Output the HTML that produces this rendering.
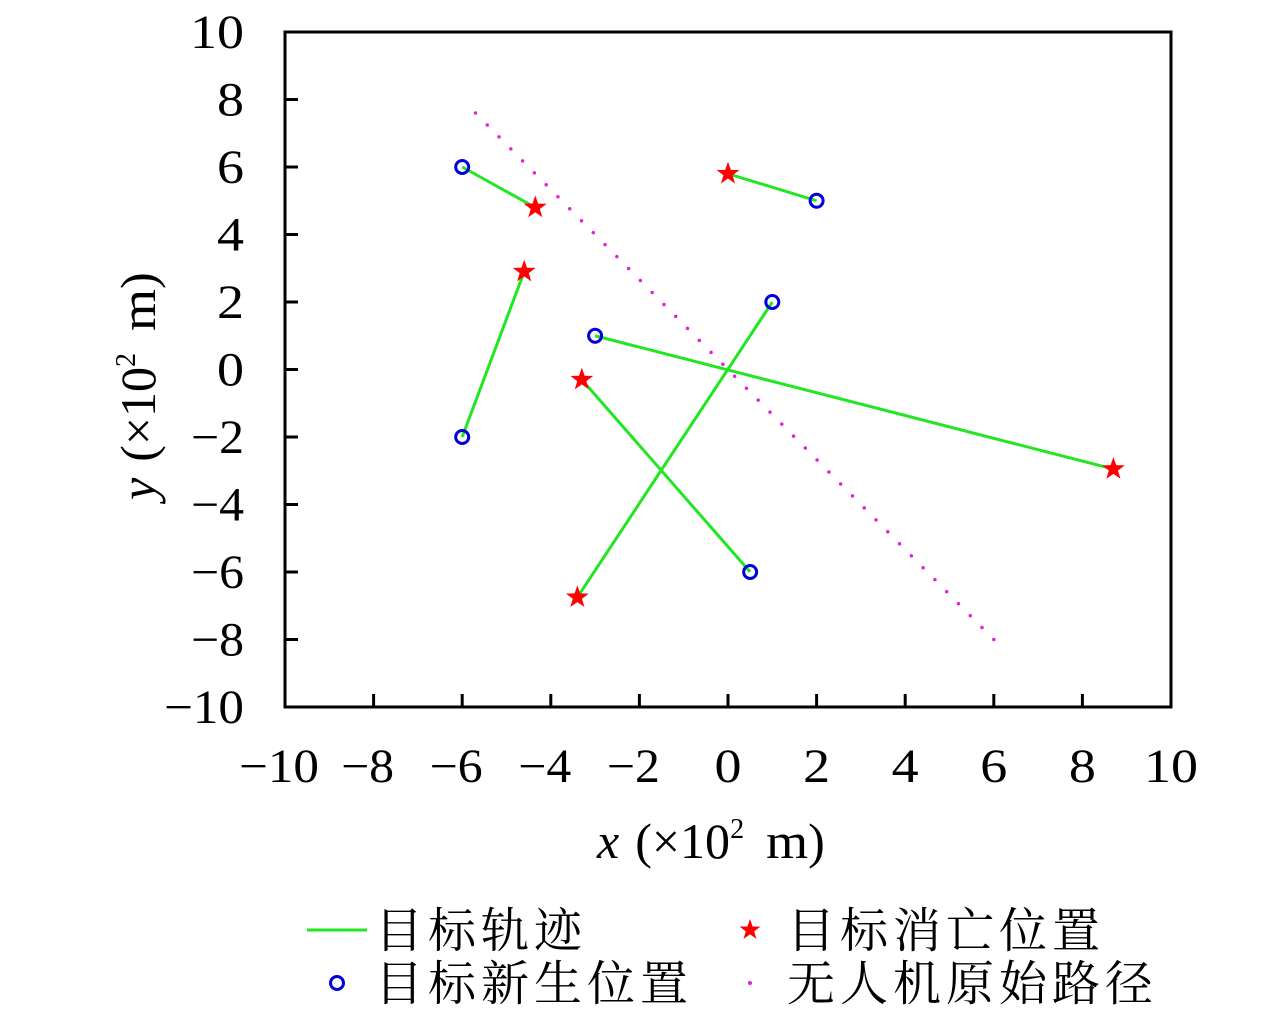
<!DOCTYPE html>
<html><head><meta charset="utf-8"><style>
body{margin:0;background:#fff}
svg{display:block}
text{font-family:"Liberation Serif","Noto Serif CJK SC",serif;fill:#000}
</style></head><body>
<svg width="1280" height="1010" id="c"></svg>
<script>
const births=[[-6,6],[2,5],[-6,-2],[-3,1],[1,2],[0.5,-6]];
const deaths=[[-4.35,4.8],[0,5.8],[-4.6,2.9],[8.7,-2.95],[-3.4,-6.75],[-3.3,-0.3]];
const uavPath=[[-5.7,7.6],[6,-8]];
const xTicks=[-10,-8,-6,-4,-2,0,2,4,6,8,10];
const yTicks=[-10,-8,-6,-4,-2,0,2,4,6,8,10];
const X0=285,X1=1171,Y0=707,Y1=32;
const sx=v=>X0+(v+10)/20*(X1-X0);
const sy=v=>Y0-(v+10)/20*(Y0-Y1);
const svg=document.getElementById('c');
const NS='http://www.w3.org/2000/svg';
function mk(t,a,p){const e=document.createElementNS(NS,t);for(const k in a)e.setAttribute(k,a[k]);(p||svg).appendChild(e);return e;}
const lab=v=>v<0?'\u2212'+(-v):''+v;
const tw=v=>(v<0?26:0)+(Math.abs(v)>=10?54:27);
xTicks.forEach(v=>{
 const t=mk('line',{x1:sx(v),x2:sx(v),y1:Y0,y2:Y0-13,stroke:'#000','stroke-width':3});
 
 const l=mk('text',{x:sx(v)-(v<0?6:0),y:782,'font-size':48,'text-anchor':'middle',textLength:tw(v),lengthAdjust:'spacingAndGlyphs'});l.textContent=lab(v);
 
});
yTicks.forEach(v=>{
 const t=mk('line',{x1:X0,x2:X0+13,y1:sy(v),y2:sy(v),stroke:'#000','stroke-width':3});
 
 const l=mk('text',{x:244,y:sy(v)+16,'font-size':48,'text-anchor':'end',textLength:tw(v),lengthAdjust:'spacingAndGlyphs'});l.textContent=lab(v);
 
});
const up=mk('line',{x1:sx(uavPath[0][0]),y1:sy(uavPath[0][1]),x2:sx(uavPath[1][0]),y2:sy(uavPath[1][1]),stroke:'#e020e0','stroke-width':3.5,'stroke-linecap':'round',pathLength:44,'stroke-dasharray':'0 1'});

births.forEach((b,i)=>{
 const d=deaths[i];
 const l=mk('line',{x1:sx(b[0]),y1:sy(b[1]),x2:sx(d[0]),y2:sy(d[1]),stroke:'#22e622','stroke-width':3});
 
});
function star(cx,cy,R,p){let s='';for(let k=0;k<10;k++){const r=k%2?R*0.4:R;const a=-Math.PI/2+k*Math.PI/5;s+=(cx+r*Math.cos(a))+','+(cy+r*Math.sin(a))+' ';}
 return mk('polygon',{points:s,fill:'#f00'},p);}
births.forEach(b=>{
 const c=mk('circle',{cx:sx(b[0]),cy:sy(b[1]),r:6.5,fill:'none',stroke:'#0000dd','stroke-width':3});
 
});
deaths.forEach(d=>{
 const s=star(sx(d[0]),sy(d[1]),12);
 
});
const f=mk('rect',{x:X0,y:Y1,width:X1-X0,height:Y0-Y1,fill:'none',stroke:'#000','stroke-width':3});

const xt=mk('text',{x:597,y:858,'font-size':50});
xt.innerHTML='<tspan font-style="italic">x</tspan><tspan dx="16">(×10</tspan><tspan font-size="28" dy="-20">2</tspan><tspan dy="20" dx="22" textLength="42" lengthAdjust="spacingAndGlyphs">m</tspan><tspan>)</tspan>';

const yt=mk('text',{x:0,y:0,'font-size':50,transform:'translate(155,500) rotate(-90)'});
yt.innerHTML='<tspan font-style="italic">y</tspan><tspan dx="16">(×10</tspan><tspan font-size="28" dy="-20">2</tspan><tspan dy="20" dx="22" textLength="42" lengthAdjust="spacingAndGlyphs">m</tspan><tspan>)</tspan>';

const lg=mk('g',{});
const L={'font-size':48,'letter-spacing':5};
const l1=mk('line',{x1:307,x2:367,y1:930,y2:930,stroke:'#22e622','stroke-width':3},lg);

const t1=mk('text',Object.assign({x:375,y:947},L),lg);t1.textContent='目标轨迹';

const l2=mk('circle',{cx:337,cy:983,r:6.5,fill:'none',stroke:'#0000dd','stroke-width':3},lg);

const t2=mk('text',Object.assign({x:375,y:1000},L),lg);t2.textContent='目标新生位置';

const l3=star(750,930,11,lg);

const t3=mk('text',Object.assign({x:787,y:947},L),lg);t3.textContent='目标消亡位置';

const l4=mk('circle',{cx:750,cy:983,r:2,fill:'#e020e0'},lg);

const t4=mk('text',Object.assign({x:787,y:1000},L),lg);t4.textContent='无人机原始路径';

</script>
</body></html>
